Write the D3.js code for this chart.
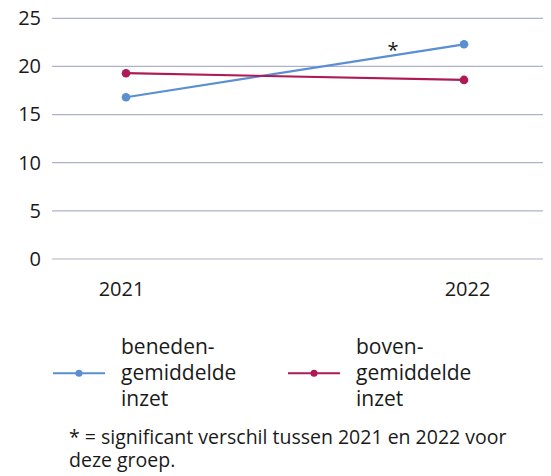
<!DOCTYPE html>
<html>
<head>
<meta charset="utf-8">
<script src="https://cdn.jsdelivr.net/npm/d3@7"></script>
<style>
  body { margin: 0; background: #fff; }
  svg { display: block; font-family: "Open Sans", "Noto Sans", sans-serif; }
</style>
</head>
<body>
<div id="chart"></div>
<script>
// Data
const years = ["2021", "2022"];
const benedenValues = [16.8, 22.3];
const bovenValues = [19.3, 18.6];
const seriesNames = ["beneden-|gemiddelde|inzet", "boven-|gemiddelde|inzet"];
const seriesColors = ["#5a8fd2", "#ad1a55"];
const yTicks = [0, 5, 10, 15, 20, 25];
const footnote = ["* = significant verschil tussen 2021 en 2022 voor", "deze groep."];

const width = 551;
const height = 476;
const grid = { left: 52, right: 543 };

const svg = d3.select("#chart")
  .append("svg")
  .attr("width", width)
  .attr("height", height);

const x = d3.scalePoint()
  .domain(years)
  .range([126, 464]);

const y = d3.scaleLinear()
  .domain([0, 25])
  .range([259, 18.3]);

// Gridlines
svg.append("g")
  .selectAll("line")
  .data(yTicks)
  .join("line")
  .attr("x1", grid.left)
  .attr("x2", grid.right)
  .attr("y1", d => y(d))
  .attr("y2", d => y(d))
  .attr("stroke", "#aeb1cd")
  .attr("stroke-width", 1.2);

// Y axis labels
svg.append("g")
  .attr("transform", `translate(${grid.left - 11},0)`)
  .call(d3.axisLeft(y).tickValues(yTicks).tickSize(0).tickPadding(0))
  .call(g => g.select(".domain").remove())
  .selectAll("text")
  .attr("dy", "0.32em")
  .style("font-size", "20px")
  .style("font-family", "'Open Sans', 'Noto Sans', sans-serif")
  .attr("fill", "#1a1a1a");

// X axis labels
svg.append("g")
  .attr("transform", `translate(0,${y(0)})`)
  .call(d3.axisBottom(x).tickSize(0).tickPadding(23))
  .call(g => g.select(".domain").remove())
  .selectAll("text")
  .attr("dx", (d, i) => i === 0 ? -5 : 3)
  .style("font-size", "20px")
  .style("font-family", "'Open Sans', 'Noto Sans', sans-serif")
  .attr("fill", "#1a1a1a");

// Lines
const line = d3.line()
  .x((d, i) => x(years[i]))
  .y(d => y(d));

const series = [benedenValues, bovenValues];

series.forEach((values, s) => {
  svg.append("path")
    .datum(values)
    .attr("fill", "none")
    .attr("stroke", seriesColors[s])
    .attr("stroke-width", 2.2)
    .attr("d", line);

  svg.append("g")
    .selectAll("circle")
    .data(values)
    .join("circle")
    .attr("cx", (d, i) => x(years[i]))
    .attr("cy", d => y(d))
    .attr("r", 4.3)
    .attr("fill", seriesColors[s]);
});

// Significance marker on the beneden line
const t = 0.79;
svg.append("text")
  .attr("x", x("2021") + (x("2022") - x("2021")) * t)
  .attr("y", y(benedenValues[0] + (benedenValues[1] - benedenValues[0]) * t) + 2)
  .attr("text-anchor", "middle")
  .style("font-size", "20px")
  .attr("fill", "#1a1a1a")
  .text("*");

// Legend
const legendX = [53, 288];
series.forEach((values, s) => {
  const lg = svg.append("g")
    .attr("transform", `translate(${legendX[s]}, 373.3)`);

  lg.append("line")
    .attr("x1", 0)
    .attr("x2", 52)
    .attr("stroke", seriesColors[s])
    .attr("stroke-width", 2);

  lg.append("circle")
    .attr("cx", 26)
    .attr("r", 3.5)
    .attr("fill", seriesColors[s]);

  lg.append("text")
    .attr("y", -19)
    .style("font-size", "21px")
    .attr("fill", "#1a1a1a")
    .selectAll("tspan")
    .data(seriesNames[s].split("|"))
    .join("tspan")
    .attr("x", 68)
    .attr("dy", (d, i) => i === 0 ? 0 : 26)
    .text(d => d);
});

// Footnote
svg.append("text")
  .style("font-size", "19.5px")
  .attr("fill", "#1a1a1a")
  .selectAll("tspan")
  .data(footnote)
  .join("tspan")
  .attr("x", 69)
  .attr("y", (d, i) => 444 + i * 22.7)
  .text(d => d);
</script>
</body>
</html>
